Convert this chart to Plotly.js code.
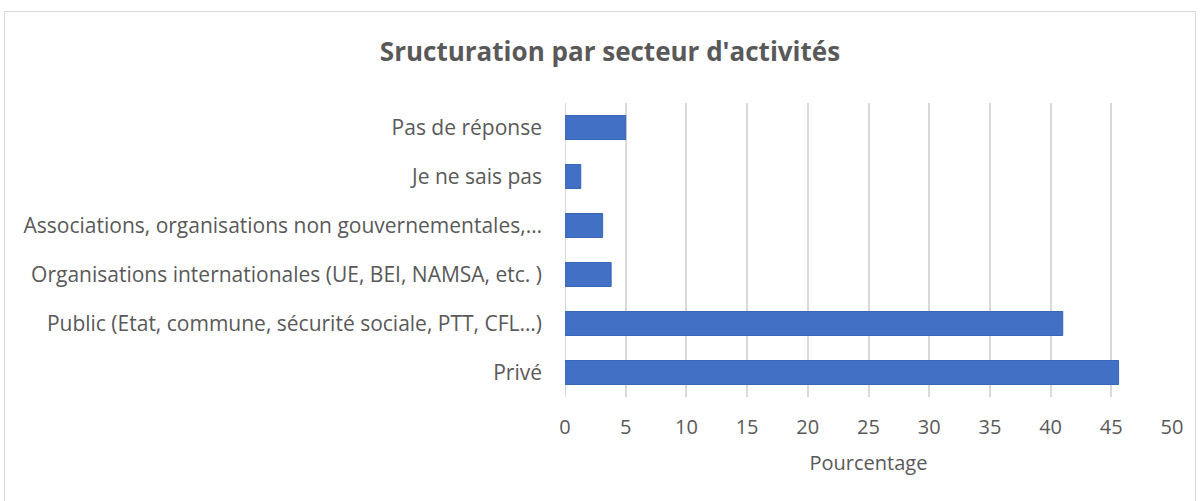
<!DOCTYPE html>
<html>
<head>
<meta charset="utf-8">
<script src="https://cdn.plot.ly/plotly-3.0.1.min.js"></script>
<style>
html,body{margin:0;padding:0;background:#fff;}
#wrap{position:relative;width:1201px;height:501px;overflow:hidden;}
#frame{position:absolute;left:4px;top:11px;width:1192px;height:520px;border:1px solid #d9d9d9;box-sizing:border-box;pointer-events:none;z-index:5;}
#chart{position:absolute;left:0;top:0;width:1201px;height:501px;}
</style>
</head>
<body>
<div id="wrap"><div id="chart"></div><div id="frame"></div></div>
<script>
const categories = [
  "Privé",
  "Public (Etat, commune, sécurité sociale, PTT, CFL…)",
  "Organisations internationales (UE, BEI, NAMSA, etc. )",
  "Associations, organisations non gouvernementales,…",
  "Je ne sais pas",
  "Pas de réponse"
];
const values = [45.6, 41.0, 3.8, 3.1, 1.3, 5.0];
const xTicks = [0, 5, 10, 15, 20, 25, 30, 35, 40, 45, 50];
const titleText = "Sructuration par secteur d'activités";
const xTitle = "Pourcentage";

const font = "'Open Sans', sans-serif";
const trace = {
  type: "bar",
  orientation: "h",
  x: values,
  y: categories,
  marker: {color: "#4170c4", line: {color: "#3866b8", width: 1}},
  hoverinfo: "x+y"
};
const layout = {
  width: 1201, height: 501,
  margin: {l: 565, r: 29, t: 103, b: 104, pad: 0},
  paper_bgcolor: "rgba(0,0,0,0)",
  plot_bgcolor: "rgba(0,0,0,0)",
  bargap: 0.51,
  showlegend: false,
  font: {family: font, color: "#595959", size: 20},
  title: {
    text: "<b>" + titleText + "</b>",
    font: {family: font, size: 26, color: "#595959"},
    x: 610/1201, xref: "container", xanchor: "center",
    y: 1 - 52/501, yref: "container", yanchor: "middle"
  },
  xaxis: {
    range: [0, 50],
    tickvals: xTicks,
    ticktext: xTicks.map(String),
    showgrid: true, gridcolor: "#d9d9d9", gridwidth: 2,
    zeroline: false, showline: false,
    ticks: "", ticklabelstandoff: 16,
    tickfont: {family: font, size: 20, color: "#595959"},
    title: {text: xTitle, font: {family: font, size: 20, color: "#595959"}, standoff: 16},
    fixedrange: true
  },
  yaxis: {
    type: "category",
    categoryorder: "array", categoryarray: categories,
    showgrid: false, zeroline: false,
    showline: false,
    ticks: "", ticklabelstandoff: 22,
    tickfont: {family: font, size: 21, color: "#595959"},
    fixedrange: true
  },
  shapes: [{
    type: "line", xref: "x", yref: "paper", x0: 0, x1: 0, y0: 0, y1: 1,
    line: {color: "#d9d9d9", width: 2}, layer: "below"
  }]
};
Plotly.newPlot("chart", [trace], layout, {displayModeBar: false, staticPlot: true});
</script>
</body>
</html>
